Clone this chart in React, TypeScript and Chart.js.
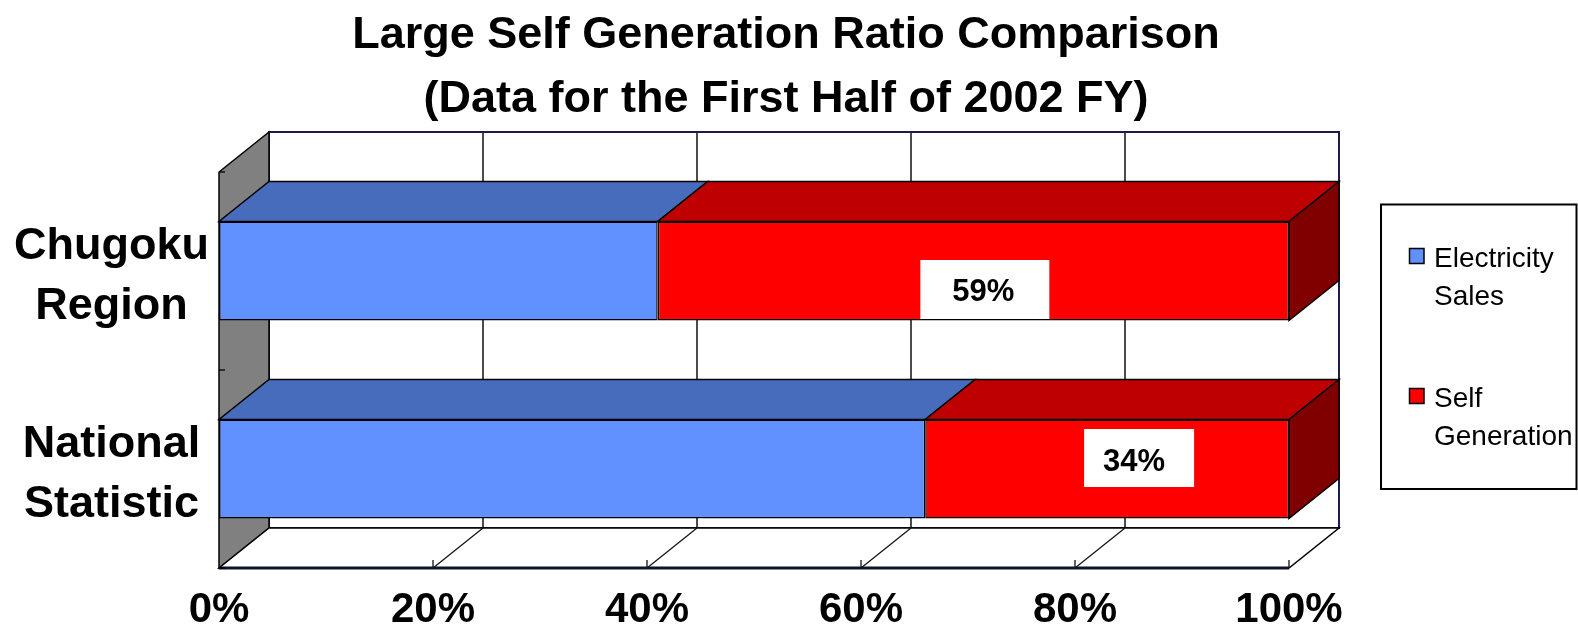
import { useEffect, useRef } from 'react';
import { Chart, registerables } from 'chart.js';

Chart.register(...registerables);

// ---- data ----
const categories = [
  ['Chugoku', 'Region'],
  ['National', 'Statistic'],
];
const seriesNames = ['Electricity Sales', 'Self Generation'];
const electricitySales = [41, 66];
const selfGeneration = [59, 34];
const xTickValues = [0, 20, 40, 60, 80, 100];
const titleLines = [
  'Large Self Generation Ratio Comparison',
  '(Data for the First Half of 2002 FY)',
];

// ---- styling ----
const FONT = 'Liberation Sans, Arial, Helvetica, sans-serif';
const DEPTH_X = 50;
const DEPTH_Y = 40;
const frontColors = ['#6190FF', '#FF0000'];
const topColors = ['#486CBC', '#BE0000'];
const sideColors = ['#3A5596', '#800000'];
// where each value label sits relative to the centre of its red segment
const labelPlacement = [
  { dx: 10, dy: 19, left: 63, right: 66, top: 30, bottom: 29 },
  { dx: 27, dy: -9, left: 50, right: 60, top: 31, bottom: 27 },
];

type Pt = [number, number];

function poly(ctx: CanvasRenderingContext2D, pts: Pt[], fill: string | null, stroke: string | null, lw = 1.5) {
  ctx.beginPath();
  ctx.moveTo(pts[0][0], pts[0][1]);
  for (let i = 1; i < pts.length; i++) ctx.lineTo(pts[i][0], pts[i][1]);
  ctx.closePath();
  if (fill) {
    ctx.fillStyle = fill;
    ctx.fill();
  }
  if (stroke) {
    ctx.strokeStyle = stroke;
    ctx.lineWidth = lw;
    ctx.stroke();
  }
}

function seg(ctx: CanvasRenderingContext2D, x1: number, y1: number, x2: number, y2: number, color: string, lw: number) {
  ctx.beginPath();
  ctx.moveTo(x1, y1);
  ctx.lineTo(x2, y2);
  ctx.strokeStyle = color;
  ctx.lineWidth = lw;
  ctx.stroke();
}

// walls, floor, gridlines and the top/end faces of the bars
const boxPlugin = {
  id: 'box3d',
  beforeDatasetsDraw(chart: any) {
    const { ctx, chartArea: a, scales } = chart;
    const xs = scales.x;
    ctx.save();
    ctx.lineJoin = 'miter';

    // back wall
    ctx.fillStyle = '#ffffff';
    ctx.fillRect(a.left + DEPTH_X, a.top - DEPTH_Y, a.width, a.height);
    for (const v of xTickValues.slice(1, -1)) {
      const px = xs.getPixelForValue(v) + DEPTH_X;
      seg(ctx, px, a.top - DEPTH_Y, px, a.bottom - DEPTH_Y, '#111111', 1.5);
    }
    ctx.strokeStyle = '#1c1c48';
    ctx.lineWidth = 2;
    ctx.strokeRect(a.left + DEPTH_X, a.top - DEPTH_Y, a.width, a.height);

    // left side wall
    poly(ctx, [
      [a.left, a.top],
      [a.left + DEPTH_X, a.top - DEPTH_Y],
      [a.left + DEPTH_X, a.bottom - DEPTH_Y],
      [a.left, a.bottom],
    ], '#808080', '#000000', 1.5);

    // floor
    poly(ctx, [
      [a.left, a.bottom],
      [a.left + DEPTH_X, a.bottom - DEPTH_Y],
      [a.right + DEPTH_X, a.bottom - DEPTH_Y],
      [a.right, a.bottom],
    ], '#ffffff', '#000000', 1.5);
    for (const v of xTickValues.slice(1, -1)) {
      const px = xs.getPixelForValue(v);
      seg(ctx, px, a.bottom, px + DEPTH_X, a.bottom - DEPTH_Y, '#111111', 1.3);
    }
    for (const v of xTickValues.slice(1)) {
      const px = xs.getPixelForValue(v);
      seg(ctx, px, a.bottom, px, a.bottom - 8, '#111111', 1.3);
    }
    seg(ctx, a.left, a.bottom, a.right, a.bottom, '#101030', 3);

    // category boundary ticks on the side wall's front edge
    const step = a.height / categories.length;
    for (let i = 0; i <= categories.length; i++) {
      const py = a.top + i * step;
      seg(ctx, a.left, py, a.left + 6, py, '#000000', 1.3);
    }

    // top and end faces of the stacked bars
    const n = chart.data.datasets.length;
    chart.data.datasets.forEach((_ds: any, di: number) => {
      const meta = chart.getDatasetMeta(di);
      meta.data.forEach((bar: any) => {
        const { x, y, base, height } = bar.getProps(['x', 'y', 'base', 'height'], true);
        const top = y - height / 2;
        const bottom = y + height / 2;
        poly(ctx, [
          [base, top],
          [x, top],
          [x + DEPTH_X, top - DEPTH_Y],
          [base + DEPTH_X, top - DEPTH_Y],
        ], topColors[di], '#000000', 1.5);
        if (di === n - 1) {
          poly(ctx, [
            [x, top],
            [x + DEPTH_X, top - DEPTH_Y],
            [x + DEPTH_X, bottom - DEPTH_Y],
            [x, bottom],
          ], sideColors[di], '#000000', 1.5);
        }
      });
    });
    ctx.restore();
  },
};

// value labels, title and legend
const textPlugin = {
  id: 'texts',
  afterDraw(chart: any) {
    const { ctx } = chart;
    ctx.save();

    // value labels on the Self Generation segments
    const di = chart.data.datasets.length - 1;
    const meta = chart.getDatasetMeta(di);
    const size = 31;
    ctx.font = `bold ${size}px ${FONT}`;
    ctx.textAlign = 'center';
    ctx.textBaseline = 'alphabetic';
    meta.data.forEach((bar: any, i: number) => {
      const { x, y, base } = bar.getProps(['x', 'y', 'base'], true);
      const p = labelPlacement[i];
      const cx = (x + base) / 2 + p.dx;
      const cy = y + p.dy;
      ctx.fillStyle = '#ffffff';
      ctx.fillRect(cx - p.left, cy - p.top, p.left + p.right, p.top + p.bottom);
      ctx.fillStyle = '#000000';
      const v = chart.data.datasets[di].data[i];
      ctx.fillText(`${v}%`, cx, cy + size * 0.358);
    });

    // title
    ctx.font = `bold 45px ${FONT}`;
    ctx.fillStyle = '#000000';
    ctx.textAlign = 'center';
    ctx.fillText(titleLines[0], 786, 47.5);
    ctx.fillText(titleLines[1], 786, 111.5);

    // legend
    ctx.lineWidth = 2;
    ctx.strokeStyle = '#000000';
    ctx.strokeRect(1381, 204.5, 195.5, 284.5);
    ctx.font = `28px ${FONT}`;
    ctx.textAlign = 'left';
    chart.data.datasets.forEach((ds: any, i: number) => {
      const baseY = 266.5 + i * 140;
      ctx.fillStyle = frontColors[i];
      ctx.fillRect(1409.5, baseY - 18, 14.5, 15);
      ctx.strokeStyle = '#000000';
      ctx.lineWidth = 1.5;
      ctx.strokeRect(1409.5, baseY - 18, 14.5, 15);
      ctx.fillStyle = '#000000';
      const words = String(ds.label).split(' ');
      words.forEach((w: string, k: number) => {
        ctx.fillText(w, 1434, baseY + k * 38.5);
      });
    });
    ctx.restore();
  },
};

export default function App() {
  const canvasRef = useRef<HTMLCanvasElement | null>(null);

  useEffect(() => {
    if (!canvasRef.current) return;
    Chart.defaults.font.family = FONT;
    const chart = new Chart(canvasRef.current, {
      type: 'bar',
      data: {
        labels: categories as any,
        datasets: [
          {
            label: seriesNames[0],
            data: electricitySales,
            backgroundColor: frontColors[0],
            borderColor: '#000000',
            borderWidth: 1.5,
            borderSkipped: false,
          },
          {
            label: seriesNames[1],
            data: selfGeneration,
            backgroundColor: frontColors[1],
            borderColor: '#000000',
            borderWidth: 1.5,
            borderSkipped: false,
          },
        ],
      },
      options: {
        indexAxis: 'y',
        animation: false,
        responsive: true,
        maintainAspectRatio: false,
        datasets: {
          bar: { categoryPercentage: 1, barPercentage: 0.5 },
        },
        layout: { padding: { top: 172, right: 289, left: 0, bottom: 0 } },
        plugins: {
          legend: { display: false },
          title: { display: false },
          tooltip: { enabled: false },
        },
        scales: {
          x: {
            stacked: true,
            min: 0,
            max: 100,
            afterFit: (s: any) => {
              s.height = 61;
              s.paddingLeft = 0;
              s.paddingRight = 0;
            },
            afterBuildTicks: (s: any) => {
              s.ticks = xTickValues.map((v) => ({ value: v }));
            },
            grid: { display: false, drawTicks: false, tickLength: 0 },
            border: { display: false },
            ticks: {
              padding: 17,
              color: '#000000',
              font: { family: FONT, size: 42, weight: 'bold' },
              maxRotation: 0,
              autoSkip: false,
              callback: (v: any) => `${v}%`,
            },
          },
          y: {
            stacked: true,
            afterFit: (s: any) => {
              s.width = 219;
              s.paddingTop = 0;
              s.paddingBottom = 0;
            },
            grid: { display: false, drawTicks: false, tickLength: 0 },
            border: { display: false },
            ticks: {
              padding: 10,
              crossAlign: 'center',
              labelOffset: 6,
              color: '#000000',
              font: { family: FONT, size: 45, weight: 'bold', lineHeight: 60 / 45 },
            },
          },
        },
      } as any,
      plugins: [boxPlugin, textPlugin],
    });
    return () => chart.destroy();
  }, []);

  return (
    <div style={{ position: 'fixed', left: 0, top: 0, width: 1578, height: 629 }}>
      <canvas ref={canvasRef} />
    </div>
  );
}
